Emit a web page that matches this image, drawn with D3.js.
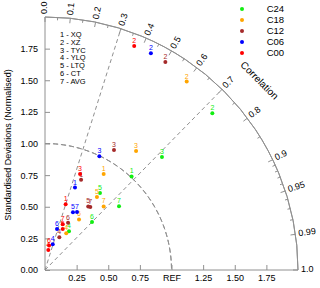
<!DOCTYPE html>
<html>
<head>
<meta charset="utf-8">
<script src="https://cdn.jsdelivr.net/npm/d3@7"></script>
<style>
  body { margin: 0; background: #fff; }
  svg { display: block; font-family: "Liberation Sans", Arial, sans-serif; }
</style>
</head>
<body>
<script>
// models and runs
const models = ["XQ", "XZ", "TYC", "YLQ", "LTQ", "CT", "AVG"];
const runs = ["C24", "C18", "C12", "C06", "C00"];
const runColors = ["#11ee11", "#ffa500", "#a52a2a", "#0000ff", "#ff0000"];

// normalised standard deviation / correlation, one value per model (1..7)
const stdC24 = [1.008, 1.812, 1.286, 0.360, 0.748, 0.531, 0.772];
const corC24 = [0.679, 0.730, 0.719, 0.527, 0.581, 0.700, 0.758];
const stdC18 = [0.890, 1.864, 1.184, 0.335, 0.708, 0.482, 0.684];
const corC18 = [0.521, 0.601, 0.608, 0.501, 0.580, 0.558, 0.678];
const stdC12 = [0.769, 1.899, 1.095, 0.282, 0.608, 0.416, 0.613];
const corC12 = [0.371, 0.501, 0.498, 0.401, 0.562, 0.438, 0.584];
const stdC06 = [0.693, 1.907, 0.997, 0.212, 0.507, 0.338, 0.523];
const corC06 = [0.342, 0.439, 0.431, 0.288, 0.436, 0.281, 0.484];
const stdC00 = [0.544, 1.906, 0.808, 0.160, 0.353, 0.196, 0.387];
const corC00 = [0.300, 0.370, 0.343, 0.163, 0.397, 0.163, 0.362];

const stdTicks = [0.25, 0.5, 0.75, 1.0, 1.25, 1.5, 1.75];
const corMajor = [0, 0.1, 0.2, 0.3, 0.4, 0.5, 0.6, 0.7, 0.8, 0.9, 0.95, 0.99, 1.0];
const corMinor = [0.05, 0.15, 0.25, 0.35, 0.45, 0.55, 0.65, 0.75, 0.85,
                  0.91, 0.92, 0.93, 0.94, 0.96, 0.97, 0.98];
const corLines = [0.3, 0.7];

let width = 320, height = 288;
let ox = 45, oy = 270, rMax = 253;

let r = d3.scaleLinear().domain([0, 2]).range([0, rMax]);
let xs = d3.scaleLinear().domain([0, 2]).range([ox, ox + rMax]);
let ys = d3.scaleLinear().domain([0, 2]).range([oy, oy - rMax]);

function pos(s, c) {
  let a = Math.acos(c);
  return [xs(s * Math.cos(a)), ys(s * Math.sin(a))];
}

let svg = d3.select("body").append("svg")
    .attr("width", width)
    .attr("height", height);

let grey = "#909090";

// REF arc (std = 1)
let arc = d3.arc()
    .innerRadius(r(1)).outerRadius(r(1))
    .startAngle(0).endAngle(Math.PI / 2);
svg.append("path")
    .attr("transform", "translate(" + ox + "," + oy + ")")
    .attr("d", arc())
    .attr("fill", "none")
    .attr("stroke", grey)
    .attr("stroke-dasharray", "5,3");

// correlation guide lines
svg.selectAll(".cline")
  .data(corLines)
  .enter().append("line")
    .attr("x1", ox).attr("y1", oy)
    .attr("x2", (d) => pos(2, d)[0])
    .attr("y2", (d) => pos(2, d)[1])
    .attr("stroke", grey)
    .attr("stroke-dasharray", "4,3");

// outer arc
let outer = d3.arc()
    .innerRadius(rMax).outerRadius(rMax)
    .startAngle(0).endAngle(Math.PI / 2);
svg.append("path")
    .attr("transform", "translate(" + ox + "," + oy + ")")
    .attr("d", outer())
    .attr("fill", "none")
    .attr("stroke", grey);

// correlation ticks (inward)
function corTicks(vals, len) {
  svg.selectAll(null)
    .data(vals)
    .enter().append("line")
      .attr("x1", (d) => pos(2, d)[0])
      .attr("y1", (d) => pos(2, d)[1])
      .attr("x2", (d) => pos(2 - r.invert(len), d)[0])
      .attr("y2", (d) => pos(2 - r.invert(len), d)[1])
      .attr("stroke", grey);
}
corTicks(corMajor, 5);
corTicks(corMinor, 3);

svg.selectAll(".clab")
  .data(corMajor)
  .enter().append("text")
    .attr("transform", (d) => {
      let p = pos(2 + r.invert(3), d);
      return "translate(" + p[0] + "," + p[1] + ") rotate(" + (-Math.acos(d) * 180 / Math.PI) + ")";
    })
    .attr("dominant-baseline", "middle")
    .attr("font-size", 9)
    .text((d) => d === 0 ? "0.0" : d === 1 ? "1.0" : String(d));

svg.append("text")
    .attr("transform", "translate(259,81) rotate(45)")
    .attr("text-anchor", "middle")
    .attr("dominant-baseline", "middle")
    .attr("font-size", 10)
    .text("Correlation");

// axes
let yAxis = d3.axisLeft(ys)
    .tickValues([0].concat(stdTicks))
    .tickSize(-5)
    .tickPadding(7)
    .tickFormat(d3.format(".2f"));
let gy = svg.append("g").attr("transform", "translate(" + ox + ",0)").call(yAxis);

let xAxis = d3.axisBottom(xs)
    .tickValues(stdTicks)
    .tickSize(-5)
    .tickPadding(5)
    .tickFormat((d) => d === 1 ? "REF" : d3.format(".2f")(d));
let gx = svg.append("g").attr("transform", "translate(0," + oy + ")").call(xAxis);

[gx, gy].forEach((g) => {
  g.select(".domain").remove();
  g.selectAll("line").attr("stroke", grey);
  g.selectAll("text").attr("font-size", 9).attr("font-family", null).attr("fill", "#000");
});

svg.append("line").attr("x1", ox).attr("y1", oy).attr("x2", ox).attr("y2", ys(2)).attr("stroke", grey);
svg.append("line").attr("x1", ox).attr("y1", oy).attr("x2", xs(2)).attr("y2", oy).attr("stroke", grey);

svg.append("text")
    .attr("transform", "translate(11,145) rotate(-90)")
    .attr("text-anchor", "middle")
    .attr("font-size", 9)
    .text("Standardised Deviations (Normalised)");

// model key
svg.selectAll(".mkey")
  .data(models)
  .enter().append("text")
    .attr("x", 60)
    .attr("y", (d, i) => 35 + i * 7.8)
    .attr("dominant-baseline", "middle")
    .attr("font-size", 7.5)
    .text((d, i) => (i + 1) + " - " + d);

// points
let series = [
  { run: "C24", std: stdC24, cor: corC24 },
  { run: "C18", std: stdC18, cor: corC18 },
  { run: "C12", std: stdC12, cor: corC12 },
  { run: "C06", std: stdC06, cor: corC06 },
  { run: "C00", std: stdC00, cor: corC00 }
];
let color = d3.scaleOrdinal(runs, runColors);

series.forEach((sr) => {
  let pts = sr.std.map((s, i) => ({ s: s, c: sr.cor[i], k: i + 1 }));
  let g = svg.append("g").attr("fill", color(sr.run));
  g.selectAll("circle")
    .data(pts)
    .enter().append("circle")
      .attr("cx", (d) => pos(d.s, d.c)[0])
      .attr("cy", (d) => pos(d.s, d.c)[1])
      .attr("r", 2);
  g.selectAll("text")
    .data(pts)
    .enter().append("text")
      .attr("x", (d) => pos(d.s, d.c)[0])
      .attr("y", (d) => pos(d.s, d.c)[1] - 3)
      .attr("text-anchor", "middle")
      .attr("font-size", 7)
      .text((d) => d.k);
});

// legend
let leg = svg.selectAll(".leg")
  .data(runs)
  .enter().append("g")
    .attr("transform", (d, i) => "translate(0," + (9 + i * 11) + ")");
leg.append("circle").attr("cx", 242).attr("r", 2).attr("fill", (d) => color(d));
leg.append("text")
    .attr("x", 266.7)
    .attr("dominant-baseline", "middle")
    .attr("font-size", 9.5)
    .text((d) => d);
</script>
</body>
</html>
